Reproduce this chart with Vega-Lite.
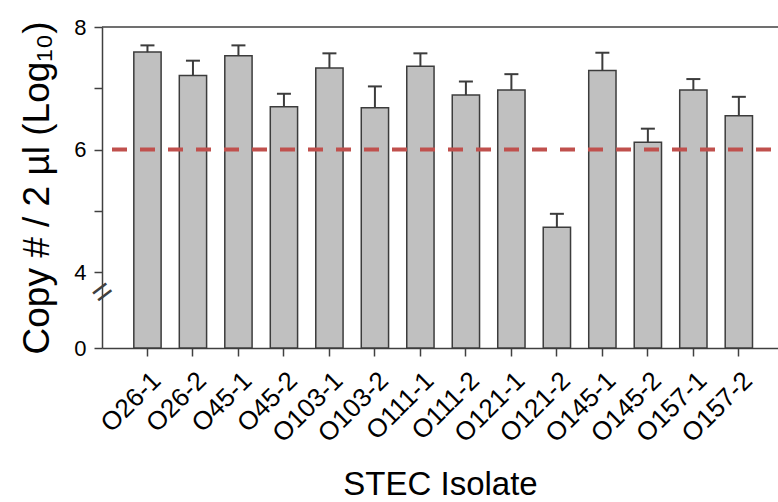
{
  "$schema": "https://vega.github.io/schema/vega-lite/v6.json",
  "width": 676,
  "height": 321,
  "autosize": {"type": "none"},
  "padding": {"left": 102, "top": 27, "right": 0, "bottom": 154},
  "config": {
    "view": {"stroke": null},
    "font": "Liberation Sans",
    "axis": {
      "domainColor": "#404040",
      "domainWidth": 1.5,
      "tickColor": "#404040",
      "tickWidth": 1.5,
      "tickSize": 8,
      "labelColor": "#000000",
      "titleColor": "#000000",
      "labelFont": "Liberation Sans",
      "titleFont": "Liberation Sans",
      "titleFontWeight": "normal",
      "grid": false
    }
  },
  "data": {
    "values": [
      {"isolate": "O26-1", "value": 7.59, "upper": 7.70},
      {"isolate": "O26-2", "value": 7.21, "upper": 7.45},
      {"isolate": "O45-1", "value": 7.53, "upper": 7.70},
      {"isolate": "O45-2", "value": 6.70, "upper": 6.91},
      {"isolate": "O103-1", "value": 7.33, "upper": 7.57},
      {"isolate": "O103-2", "value": 6.68, "upper": 7.03},
      {"isolate": "O111-1", "value": 7.36, "upper": 7.57},
      {"isolate": "O111-2", "value": 6.89, "upper": 7.11},
      {"isolate": "O121-1", "value": 6.97, "upper": 7.23},
      {"isolate": "O121-2", "value": 4.73, "upper": 4.95},
      {"isolate": "O145-1", "value": 7.29, "upper": 7.58},
      {"isolate": "O145-2", "value": 6.12, "upper": 6.34},
      {"isolate": "O157-1", "value": 6.97, "upper": 7.15},
      {"isolate": "O157-2", "value": 6.55, "upper": 6.86}
    ]
  },
  "encoding": {
    "x": {
      "field": "isolate",
      "type": "nominal",
      "sort": null,
      "scale": {"paddingInner": 0.4, "paddingOuter": 0.63, "align": 0.555},
      "axis": {
        "title": "STEC Isolate",
        "titleFontSize": 33,
        "titlePadding": 22,
        "labelFontSize": 26,
        "labelAngle": -45,
        "labelPadding": 11
      }
    }
  },
  "layer": [
    {
      "mark": {"type": "bar", "fill": "#c0c0c0", "stroke": "#3c3c3c", "strokeWidth": 1.5},
      "encoding": {
        "y": {
          "field": "value",
          "type": "quantitative",
          "scale": {"domain": [0, 4, 8], "range": [321, 245, 0], "nice": false, "zero": false},
          "axis": {
            "title": "Copy # / 2 µl (Log₁₀)",
            "titleFontSize": 37,
            "titlePadding": 17,
            "values": [0, 4, 5, 6, 7, 8],
            "labelExpr": "datum.value == 5 || datum.value == 7 ? '' : datum.label",
            "labelFontSize": 22,
            "labelPadding": 8
          }
        }
      }
    },
    {
      "mark": {"type": "rule", "stroke": "#3c3c3c", "strokeWidth": 2},
      "encoding": {
        "y": {"field": "value", "type": "quantitative"},
        "y2": {"field": "upper"}
      }
    },
    {
      "mark": {"type": "tick", "color": "#3c3c3c", "size": 14, "thickness": 2, "opacity": 1},
      "encoding": {
        "y": {"field": "upper", "type": "quantitative"}
      }
    },
    {
      "data": {"values": [{"threshold": 6}]},
      "mark": {"type": "rule", "stroke": "#c0504d", "strokeWidth": 4, "strokeDash": [15, 13], "strokeDashOffset": 21},
      "encoding": {
        "x": null,
        "y": {"field": "threshold", "type": "quantitative"}
      }
    },
    {
      "data": {"values": [{"top": 8}]},
      "mark": {"type": "rule", "stroke": "#404040", "strokeWidth": 1.5},
      "encoding": {
        "x": null,
        "y": {"field": "top", "type": "quantitative"}
      }
    },
    {
      "data": {"values": [{"brk": 2.9, "label": "="}]},
      "mark": {"type": "text", "font": "Liberation Sans", "fontSize": 34, "angle": -37, "color": "#404040", "align": "center", "baseline": "middle"},
      "encoding": {
        "x": {"value": 1},
        "y": {"field": "brk", "type": "quantitative"},
        "text": {"field": "label"}
      }
    }
  ]
}
